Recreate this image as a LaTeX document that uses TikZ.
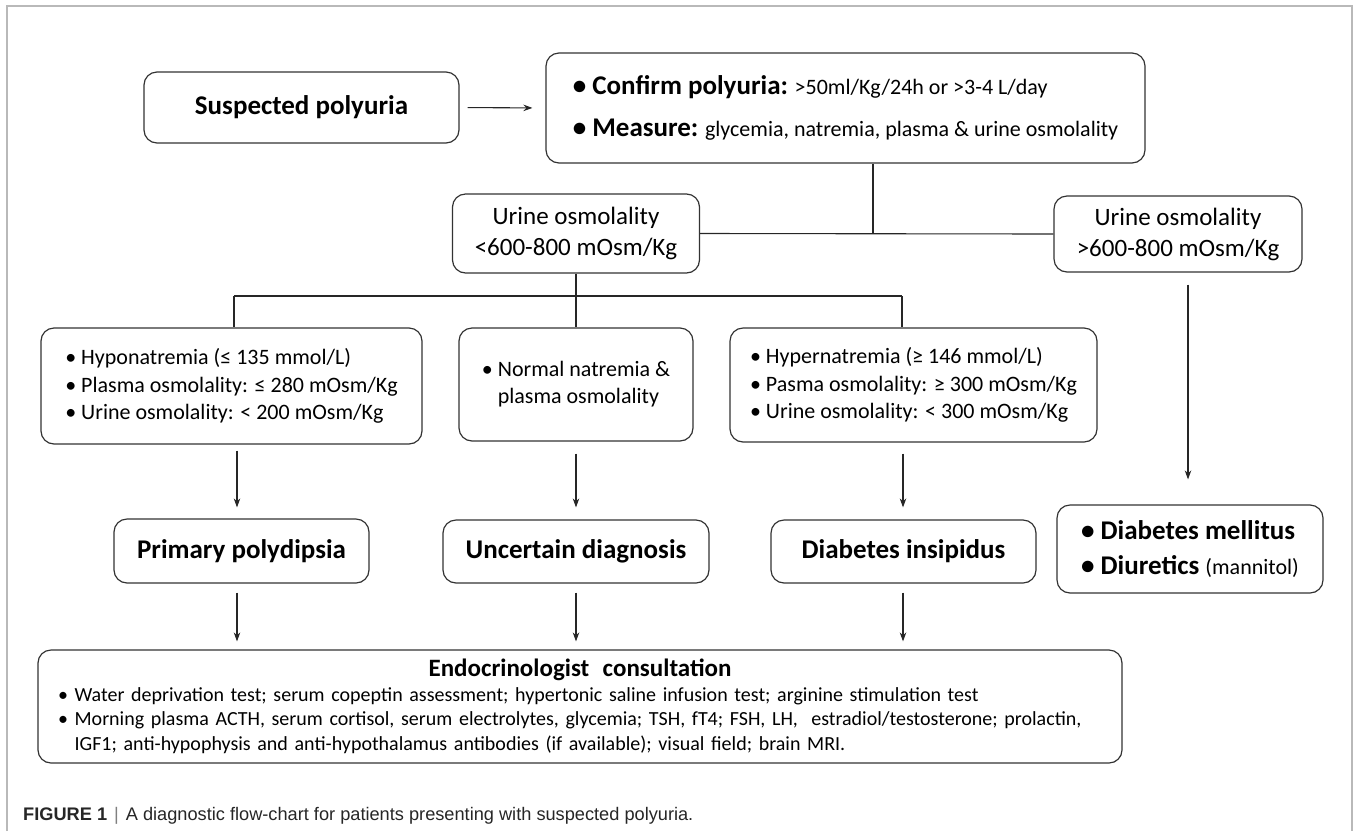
\documentclass[tikz,border=0pt]{standalone}
\usepackage{fontspec}
\setmainfont{Carlito}
\newfontfamily\capfont{Liberation Sans}
\usetikzlibrary{arrows.meta}
\tikzset{
  box/.style={draw=black!80, line width=1.2pt, rounded corners=13pt, inner sep=0pt, align=center},
  lst/.style={box, align=left},
  ln/.style={draw=black!85, line width=1.1pt},
  arr/.style={ln, -{Stealth[length=9pt,width=6.5pt]}},
  big/.style={font=\fontsize{27}{32}\selectfont\bfseries},
  mid/.style={font=\fontsize{25}{31}\selectfont},
  small/.style={font=\fontsize{22}{27.5}\selectfont},
  frame/.style={draw=gray!55, line width=2pt}
}
\begin{document}
\begin{tikzpicture}[x=1pt,y=-1pt]
\useasboundingbox (0,0) rectangle (1354,831);
\draw[frame] (7,831) -- (7,6) -- (1352,6) -- (1352,831);

\node[box, big, minimum width=315pt, minimum height=71pt] (sp) at (301.5,107.5) {Suspected polyuria};
\node[lst, minimum width=599pt, minimum height=110pt, font=\fontsize{22}{42}\selectfont] (cf) at (845.5,108)
  {{\bfseries\fontsize{27}{42}\selectfont\textbullet\ Confirm polyuria:} >50ml/Kg/24h or >3-4 L/day\\
   {\bfseries\fontsize{27}{42}\selectfont\textbullet\ Measure:} glycemia, natremia, plasma \& urine osmolality};

\node[box, mid, minimum width=247pt, minimum height=79pt] (ulo) at (576,233.5) {Urine osmolality\\<600-800 mOsm/Kg};
\node[box, mid, minimum width=248pt, minimum height=76pt] (uhi) at (1178,234) {Urine osmolality\\>600-800 mOsm/Kg};

\node[lst, small, minimum width=381pt, minimum height=116pt] (hypo) at (231.5,386)
  {\textbullet\ Hyponatremia (≤ 135 mmol/L)\\ \textbullet\ Plasma osmolality: ≤ 280 mOsm/Kg\\ \textbullet\ Urine osmolality: < 200 mOsm/Kg};
\node[box, small, minimum width=234pt, minimum height=113pt] (norm) at (576,384.5)
  {\begin{tabular}{@{}l@{}}\textbullet\ Normal natremia \&\\ \hphantom{\textbullet\ }plasma osmolality\end{tabular}};
\node[lst, small, minimum width=367pt, minimum height=114pt] (hyper) at (913.5,385)
  {\textbullet\ Hypernatremia (≥ 146 mmol/L)\\ \textbullet\ Pasma osmolality: ≥ 300 mOsm/Kg\\ \textbullet\ Urine osmolality: < 300 mOsm/Kg};

\node[box, big, minimum width=255pt, minimum height=64pt] (pp) at (241.5,551) {Primary polydipsia};
\node[box, big, minimum width=266pt, minimum height=63pt] (ud) at (576,551.5) {Uncertain diagnosis};
\node[box, big, minimum width=265pt, minimum height=63pt] (di) at (903.5,551.5) {Diabetes insipidus};
\node[lst, font=\fontsize{27}{35}\selectfont\bfseries, minimum width=266pt, minimum height=88pt] (dm) at (1190,549)
  {\textbullet\ Diabetes mellitus\\ \textbullet\ Diuretics {\mdseries\fontsize{22}{35}\selectfont(mannitol)}};

\node[box, align=left, text width=1044pt, inner xsep=20pt, inner ysep=0pt, minimum height=113pt,
      font=\fontsize{20}{24.5}\selectfont] (endo) at (580,706.5)
  {{\centering\bfseries\fontsize{25}{28}\selectfont Endocrinologist\ \ consultation\par}
   \textbullet\ Water deprivation test; serum copeptin assessment; hypertonic saline infusion test; arginine stimulation test\\
   \textbullet\ Morning plasma ACTH, serum cortisol, serum electrolytes, glycemia; TSH, fT4; FSH, LH,\ \ estradiol/testosterone; prolactin,\\
   \hphantom{\textbullet\ }IGF1; anti-hypophysis and anti-hypothalamus antibodies (if available); visual field; brain MRI.};

\node[anchor=base west, font=\capfont\fontsize{18.2}{22}\selectfont, text=black!85, inner sep=0pt] (cap) at (23,820)
  {\textbf{FIGURE 1}\hspace{7pt}{\color{gray}|}\hspace{7pt}A diagnostic flow-chart for patients presenting with suspected polyuria.};

% connectors
\coordinate (j1) at (873,233);
\coordinate (b1) at (234,296);
\coordinate (b3) at (902,296);
\coordinate (xa) at (237,0);
\coordinate (xc) at (903,0);
\coordinate (xd) at (1188,0);

\draw[arr, shorten <=8pt, shorten >=13pt] (sp.east) -- (cf.west);
\draw[ln] (ulo.east) -- (uhi.west);
\draw[ln] (cf.south -| j1) -- (j1);
\draw[ln] (ulo.south) -- (norm.north);
\draw[ln] (b1) -- (b3);
\draw[ln] (b1) -- (b1 |- hypo.north);
\draw[ln] (b3) -- (b3 |- hyper.north);

\draw[arr, shorten <=6pt, shorten >=11pt] (hypo.south -| xa) -- (pp.north -| xa);
\draw[arr, shorten <=12pt, shorten >=12pt] (norm.south) -- (ud.north);
\draw[arr, shorten <=11pt, shorten >=12pt] (hyper.south -| xc) -- (di.north -| xc);
\draw[arr, shorten <=12pt, shorten >=25pt] (uhi.south -| xd) -- (dm.north -| xd);

\draw[arr, shorten <=9pt, shorten >=8pt] (pp.south -| xa) -- (endo.north -| xa);
\draw[arr, shorten <=9pt, shorten >=8pt] (ud.south) -- (endo.north -| ud.south);
\draw[arr, shorten <=9pt, shorten >=8pt] (di.south -| xc) -- (endo.north -| xc);
\end{tikzpicture}
\end{document}
